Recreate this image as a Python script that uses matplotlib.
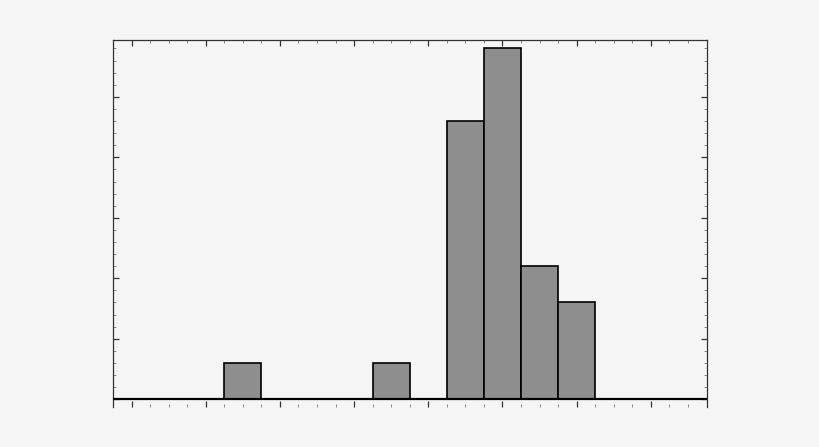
import numpy as np
import matplotlib
matplotlib.use('Agg')
from matplotlib import pyplot as plt
from matplotlib.ticker import MultipleLocator, FixedLocator

#~~ histogram values (bin index -> count)
bin_left = [3, 7, 9, 10, 11, 12]
counts = [3, 3, 23, 29, 11, 8]
n_bins = 16

bg = '#f5f5f5'

fig = plt.figure(figsize=(8.2, 4.47), dpi=100)
fig.patch.set_facecolor(bg)
ax = fig.add_axes([0.1378, 0.0906, 0.7238, 0.8199])
ax.set_facecolor(bg)

ax.bar(bin_left, counts, width=1.0, align='edge', color='#8e8e8e',
       edgecolor='black', linewidth=1.2, zorder=3)
ax.axhline(0, color='black', linewidth=1.6, zorder=4)

ax.set_xlim(0, n_bins)
ax.set_ylim(-0.6, 29.7)

#~ ticks: no labels, everything pointing inward
ax.xaxis.set_major_locator(FixedLocator(np.arange(0.5, n_bins, 2)))
ax.xaxis.set_minor_locator(MultipleLocator(0.5))
ax.yaxis.set_major_locator(MultipleLocator(5))
ax.yaxis.set_minor_locator(MultipleLocator(1))
ax.tick_params(which='both', direction='in', top=True, right=True,
               labelbottom=False, labelleft=False)
ax.tick_params(which='major', length=4, width=0.9, color='#333333')
ax.tick_params(which='minor', length=2, width=0.7, color='#888888')

for side in ['left', 'right', 'top']:
    ax.spines[side].set_color('#333333')
    ax.spines[side].set_linewidth(0.9)
ax.spines['bottom'].set_visible(False)

plt.savefig('out.png', dpi=100, facecolor=bg)
plt.close()
